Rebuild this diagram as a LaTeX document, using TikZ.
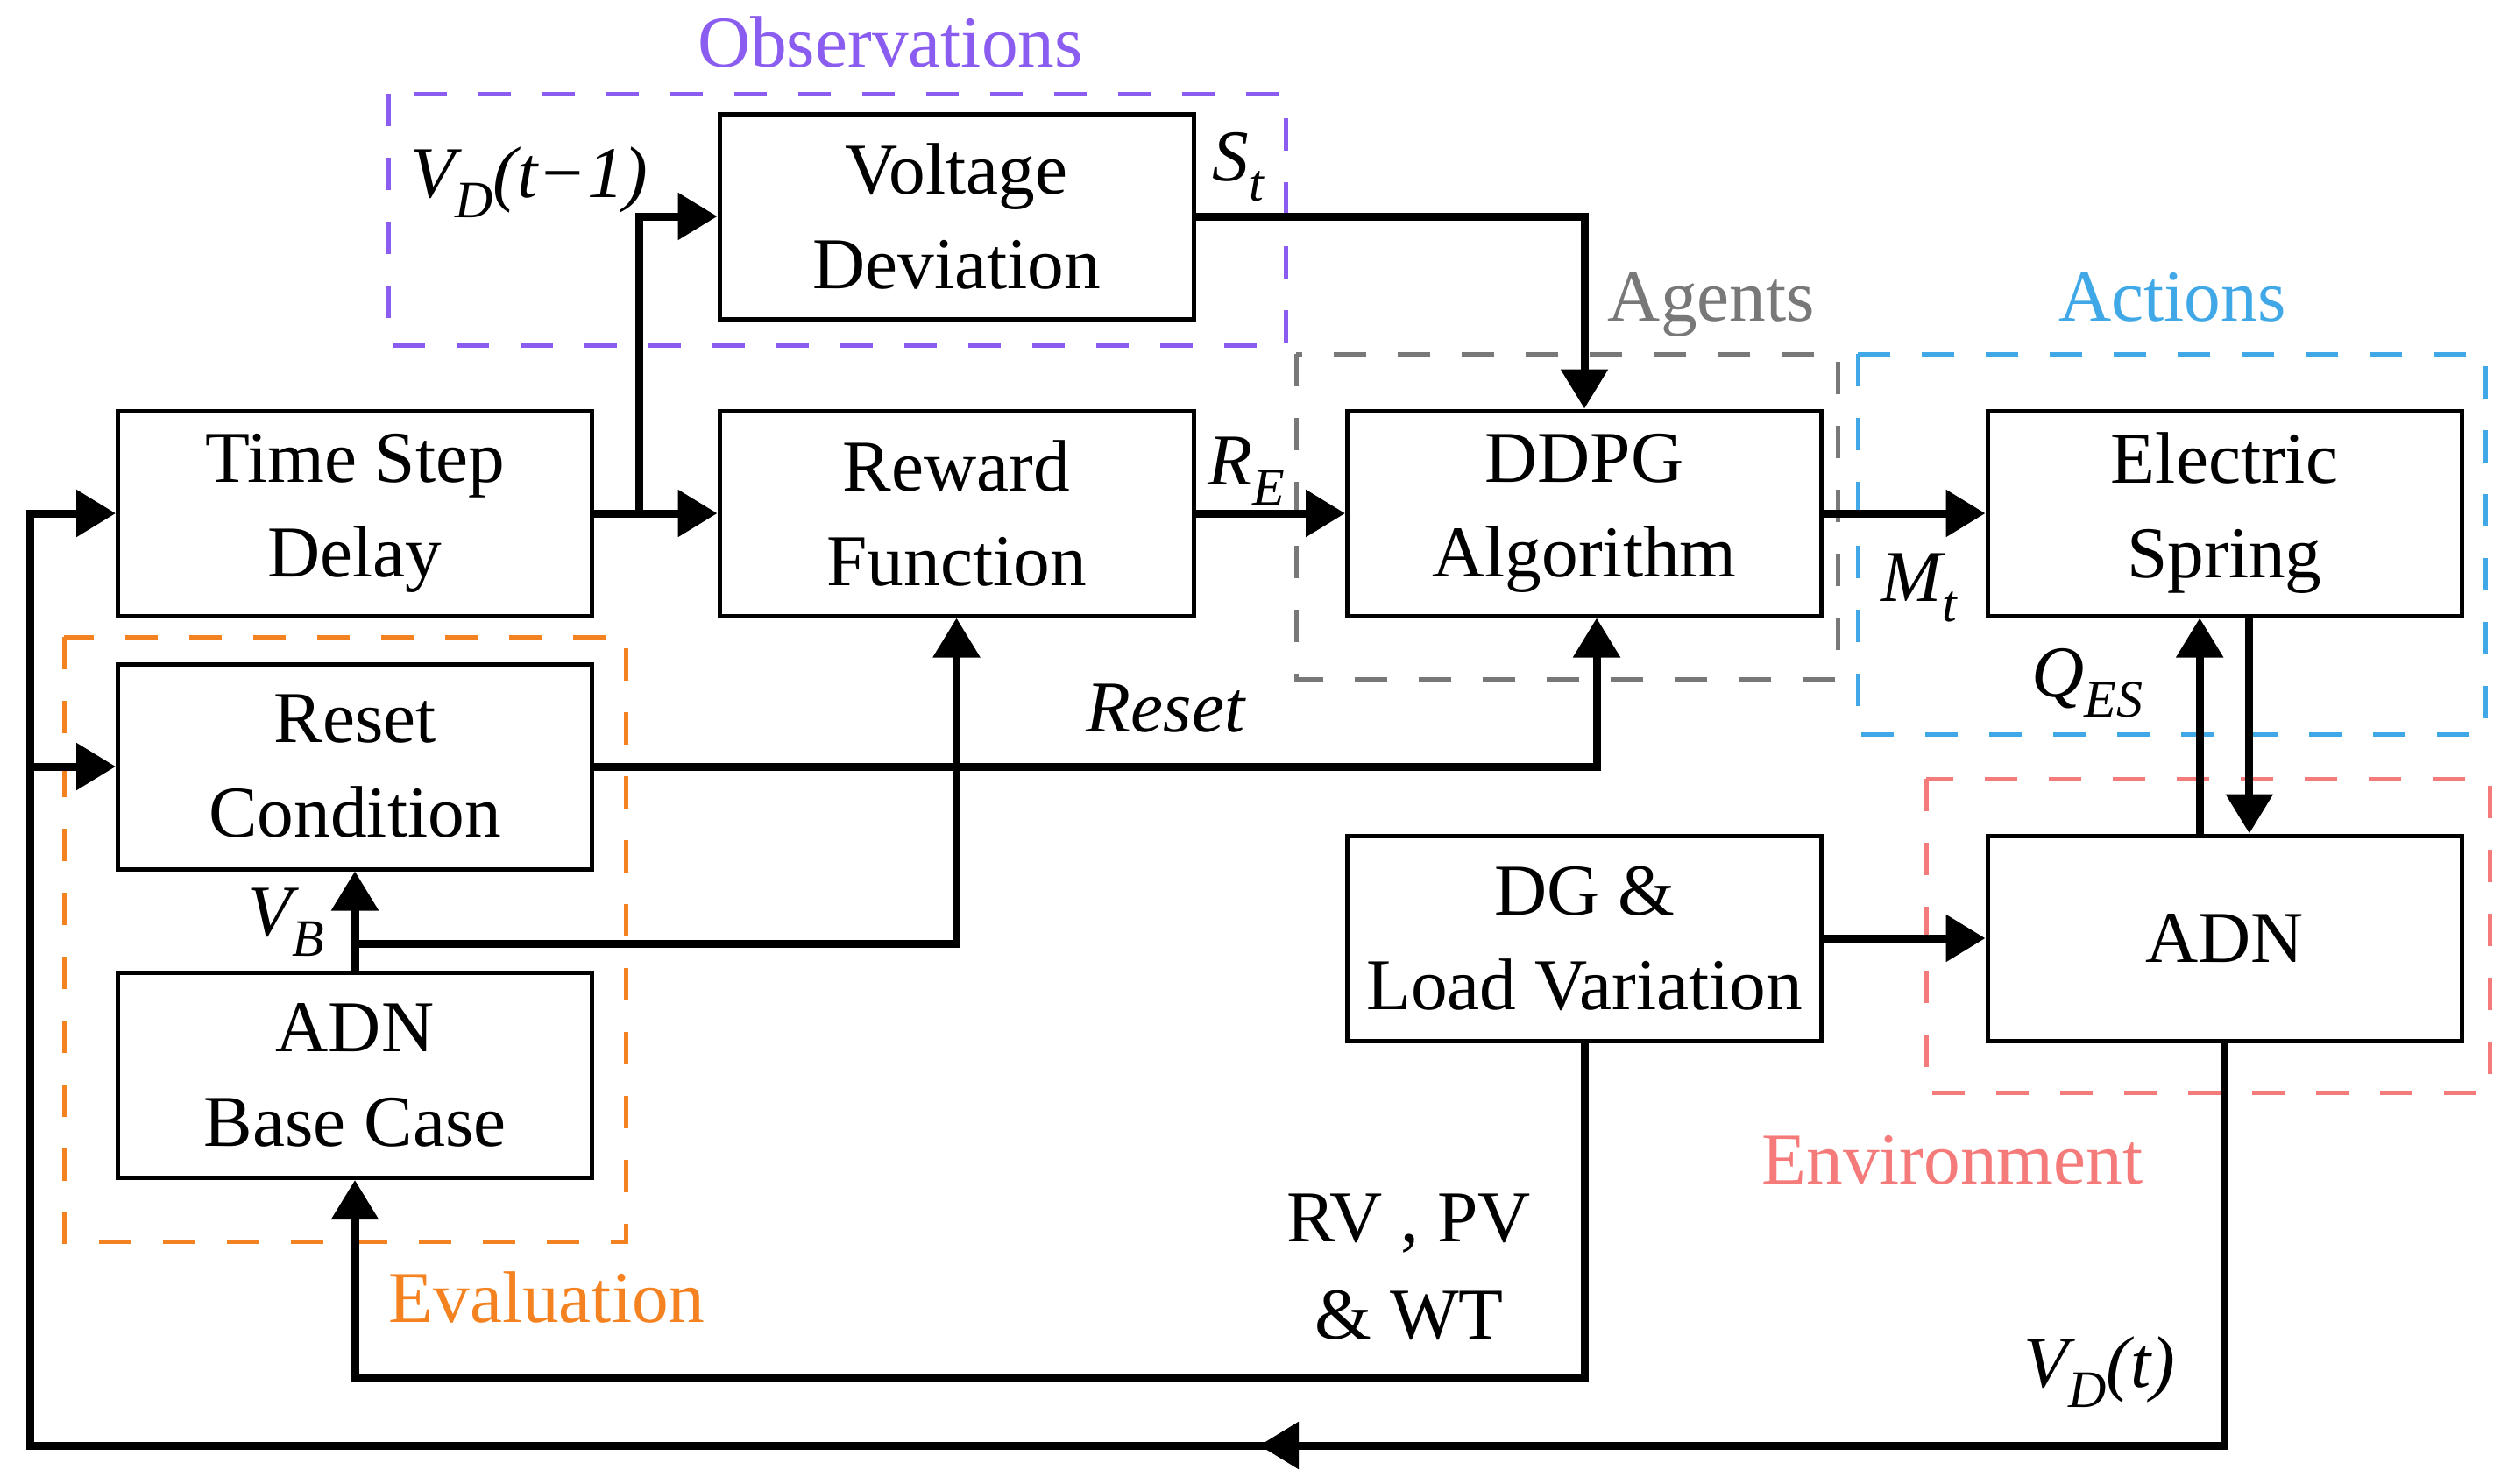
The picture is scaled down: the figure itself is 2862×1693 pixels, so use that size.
\documentclass[tikz,border=0pt]{standalone}
\usepackage{fontspec}
\setmainfont{Liberation Serif}
\usetikzlibrary{arrows.meta}
\definecolor{obscol}{RGB}{139,92,240}
\definecolor{agcol}{RGB}{120,120,120}
\definecolor{accol}{RGB}{64,168,230}
\definecolor{evcol}{RGB}{245,130,32}
\definecolor{encol}{RGB}{245,122,122}
\newcommand\lowsub[1]{\raisebox{-0.28em}{\fontsize{18}{18}\selectfont #1}}
\tikzset{
  every node/.style={font=\fontsize{25}{32.4}\selectfont},
  blk/.style={draw, line width=1.5pt, minimum width=162.3pt, minimum height=70.2pt, inner sep=0pt, align=center},
  conn/.style={line width=2.7pt},
  arr/.style={-{Triangle[length=13.5pt,width=15.6pt]}},
  dbox/.style={line width=1.5pt, dash pattern=on 11.1pt off 10.8pt},
  lbl/.style={anchor=base west, inner sep=0pt},
  grp/.style={anchor=base, inner sep=0pt},
}
\begin{document}
\begin{tikzpicture}[x=0.3pt,y=-0.3pt]
\useasboundingbox (0,0) rectangle (2862,1693);
% dashed group boxes
\draw[dbox, obscol] (443,107) rectangle (1467,394);
\draw[dbox, agcol] (1479,404) rectangle (2097,775);
\draw[dbox, accol] (2120,404) rectangle (2836,838);
\draw[dbox, encol] (2198,889) rectangle (2841,1247);
\draw[dbox, evcol] (73,727) rectangle (714,1417);
% group labels
\node[grp, text=obscol] (tobs) at (1016,76) {Observations};
\node[grp, text=agcol] (tag) at (1953,366) {Agents};
\node[grp, text=accol] (tac) at (2479,366) {Actions};
\node[grp, text=encol] (ten) at (2228,1351) {Environment};
\node[grp, text=evcol] (tev) at (624,1509) {Evaluation};
% blocks
\node[blk] (tsd) at (405,586) {Time Step\\Delay};
\node[blk] (vd) at (1091.5,247) {Voltage\\Deviation};
\node[blk] (rf) at (1091.5,586) {Reward\\Function};
\node[blk] (ddpg) at (1808,586) {DDPG\\Algorithm};
\node[blk] (es) at (2538.5,586) {Electric\\Spring};
\node[blk] (rc) at (405,875) {Reset\\Condition};
\node[blk] (adnb) at (405,1227.5) {ADN\\Base Case};
\node[blk] (dg) at (1808,1071) {DG \&\\Load Variation};
\node[blk] (adn) at (2538.5,1071) {ADN};
% coordinates
\coordinate (br) at (729,586);
\coordinate (jB) at (405,1077);
\coordinate (dgl) at (405,1573);
\coordinate (fbR) at (2538.5,1650);
\coordinate (fbL) at (34,1650);
\coordinate (fbArr) at (1437,1650);
% connectors
\draw[conn, arr] (tsd.east) -- (rf.west);
\draw[conn, arr] (br) |- (vd.west);
\draw[conn, arr] (vd.east) -| (ddpg.north);
\draw[conn, arr] (rf.east) -- (ddpg.west);
\draw[conn, arr] (ddpg.east) -- (es.west);
\draw[conn, arr] ([xshift=-8.5pt]adn.north) -- ([xshift=-8.5pt]es.south);
\draw[conn, arr] ([xshift=8.5pt]es.south) -- ([xshift=8.5pt]adn.north);
\draw[conn, arr] (dg.east) -- (adn.west);
\draw[conn, arr] (adn.south) |- (fbL) |- (tsd.west);
\draw[conn, arr] (fbR) -- (fbArr);
\draw[conn, arr] (fbL |- rc.west) -- (rc.west);
\draw[conn, arr] (rc.east) -| ([xshift=4.2pt]ddpg.south);
\draw[conn, arr] (adnb.north) -- (rc.south);
\draw[conn, arr] (jB) -| (rf.south);
\draw[conn, arr] (dg.south) |- (dgl) -- (adnb.south);
% signal labels
\node[lbl] (lvd1) at (468,225) {\itshape V\lowsub{D}(t−1)};
\node[lbl] (lst) at (1383,206) {\itshape S\lowsub{t}};
\node[lbl] (lre) at (1378,553) {\itshape R\lowsub{E}};
\node[lbl] (lmt) at (2146,686) {\itshape M\lowsub{t}};
\node[lbl] (lqes) at (2318,795) {\itshape Q\lowsub{ES}};
\node[lbl] (lreset) at (1239,835) {\itshape Reset};
\node[lbl] (lvb) at (282,1068) {\itshape V\lowsub{B}};
\node[lbl] (lvdt) at (2309,1583) {\itshape V\lowsub{D}(t)};
\node[anchor=base, inner sep=0pt, align=center, font=\fontsize{25}{33.3}\selectfont] (lrv) at (1608,1528) {RV , PV\\\& WT};
\end{tikzpicture}
\end{document}
